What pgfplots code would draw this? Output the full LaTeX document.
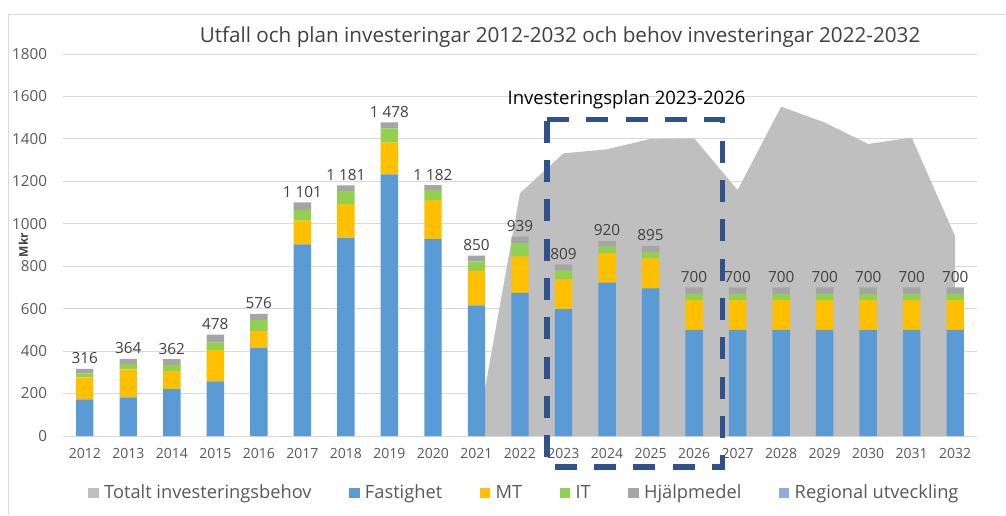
\documentclass[border=0pt]{standalone}
\usepackage{fontspec}
\setmainfont{Open Sans}
\usepackage{pgfplots}
\usepackage{pgfplotstable}
\pgfplotsset{compat=1.18}
\definecolor{cF}{HTML}{5B9BD5}
\definecolor{cMT}{HTML}{FFC000}
\definecolor{cIT}{HTML}{92D050}
\definecolor{cH}{HTML}{A5A5A5}
\definecolor{cR}{HTML}{8FAADC}
\definecolor{cArea}{HTML}{BFBFBF}
\definecolor{cGrid}{HTML}{D9D9D9}
\definecolor{cBox}{HTML}{2F528F}
\definecolor{cTxt}{HTML}{595959}
\definecolor{cLab}{HTML}{404040}

\pgfplotstableread{
year F MT IT H total
2012 173 103 19 21 316
2013 182 132 25 25 364
2014 221 85 29 27 362
2015 258 147 36 37 478
2016 416 79 52 29 576
2017 903 112 50 36 1101
2018 935 158 62 26 1181
2019 1233 149 68 28 1478
2020 928 184 46 24 1182
2021 616 162 45 27 850
2022 675 170 63 31 939
2023 598 140 44 27 809
2024 723 138 31 28 920
2025 696 141 30 28 895
2026 500 140 30 30 700
2027 500 140 30 30 700
2028 500 140 30 30 700
2029 500 140 30 30 700
2030 500 140 30 30 700
2031 500 140 30 30 700
2032 500 140 30 30 700
}\bars

\pgfplotstableread{
year behov
2021 0
2022 1144
2023 1332
2024 1351
2025 1400
2026 1403
2027 1159
2028 1552
2029 1477
2030 1376
2031 1406
2032 940
}\behov

\pgfplotsset{
  sq/.style={legend image code/.code={\fill[##1] (0pt,-4pt) rectangle (8pt,4pt);}},
  common/.style={
    at={(47.25pt,59.25pt)}, anchor=south west, scale only axis,
    width=685.5pt, height=286.5pt,
    xmin=2011.5, xmax=2032.5, ymin=0, ymax=1800,
  }
}

\begin{document}
\begin{tikzpicture}
\useasboundingbox (0,0) rectangle (754.5pt,386.25pt);
\fill[white] (0,0) rectangle (754.5pt,386.25pt);
\draw[cGrid, line width=0.75pt] (6pt,0) -- (6pt,375pt) -- (754.5pt,375pt);

\begin{axis}[common,
  ytick={0,200,...,1800}, xtick={2012,...,2032},
  axis line style={draw=none}, major tick length=0pt,
  ymajorgrids, grid style={cGrid, line width=0.75pt},
  /pgf/number format/assume math mode=true,
  /pgf/number format/1000 sep={},
  xticklabel style={font=\fontsize{10.5}{12}\selectfont, text=cTxt, yshift=-5.5pt},
  yticklabel style={font=\fontsize{11.4}{13}\selectfont, text=cTxt, xshift=-8.5pt},
  clip=false]
\addplot[fill=cArea, draw=none] table[x=year, y=behov]{\behov} \closedcycle;
\addplot[draw=none, mark=none, point meta=explicit,
  nodes near coords={\pgfmathprintnumber[assume math mode=true,1000 sep={\ }]{\pgfplotspointmeta}},
  every node near coord/.append style={anchor=south, font=\fontsize{11.5}{13}\selectfont, text=cLab, inner ysep=3.5pt}]
  table[x=year, y=total, meta=total]{\bars};
\end{axis}

\begin{axis}[common, hide axis, ybar stacked, bar width=0.4, clip=false,
  legend columns=-1,
  legend style={draw=none, fill=none, at={(0.5044,-0.1492)}, anchor=center,
    font=\fontsize{13.7}{15}\selectfont, text=cTxt,
    nodes={inner xsep=1pt},
    /tikz/every odd column/.append style={column sep=3pt},
    /tikz/every even column/.append style={column sep=27pt}},
  ]
\addlegendimage{sq, fill=cArea, draw=none}
\addlegendentry{Totalt investeringsbehov}
\addplot[sq, fill=cF, draw=none] table[x=year, y=F]{\bars};
\addlegendentry{Fastighet}
\addplot[sq, fill=cMT, draw=none] table[x=year, y=MT]{\bars};
\addlegendentry{MT}
\addplot[sq, fill=cIT, draw=none] table[x=year, y=IT]{\bars};
\addlegendentry{IT}
\addplot[sq, fill=cH, draw=none] table[x=year, y=H]{\bars};
\addlegendentry{Hjälpmedel}
\addlegendimage{sq, fill=cR, draw=none}
\addlegendentry{Regional utveckling}
\draw[cBox, line width=3.8pt, dash pattern=on 16.5pt off 13pt]
  (axis cs:2022.62,1492) -- (axis cs:2026.65,1492) -- (axis cs:2026.65,-146)
  -- (axis cs:2022.62,-146) -- cycle;
\end{axis}

\node[anchor=base, font=\fontsize{15.5}{17}\selectfont, text=cLab] at (420pt,354.2pt)
  {Utfall och plan investeringar 2012-2032 och behov investeringar 2022-2032};
\node[anchor=base, font=\fontsize{13.9}{15}\selectfont, text=black] at (469.9pt,307.5pt)
  {Investeringsplan 2023-2026};
\node[rotate=90, font=\bfseries\fontsize{9}{10}\selectfont, text=cLab] at (17.5pt,202.5pt) {Mkr};
\end{tikzpicture}
\end{document}
